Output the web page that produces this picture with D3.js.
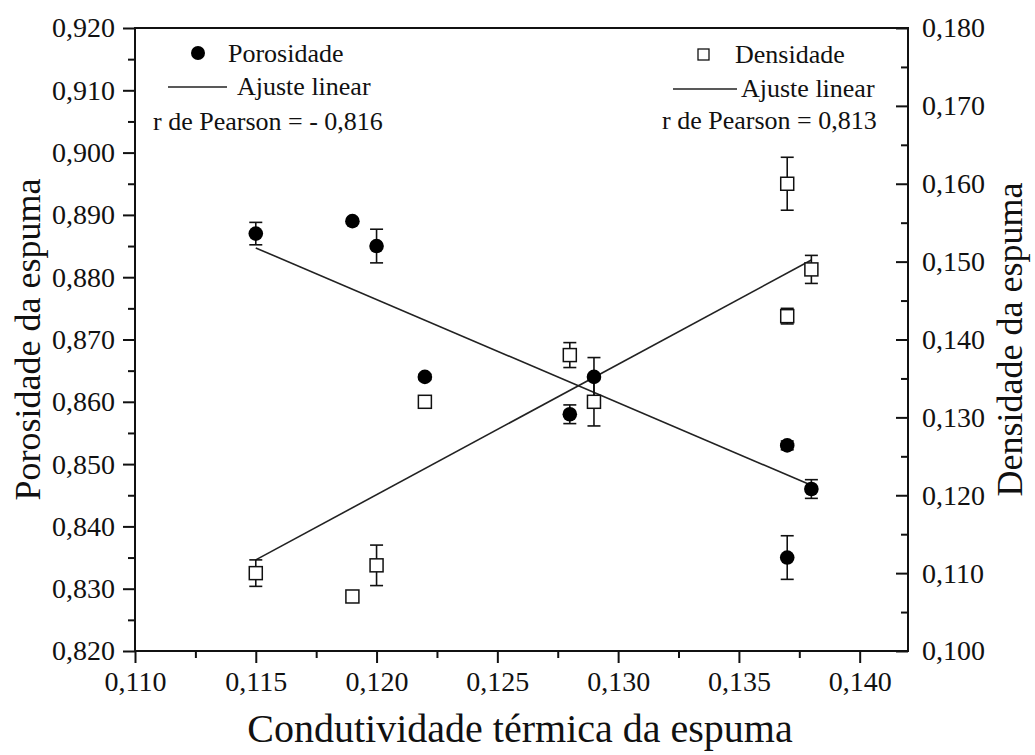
<!DOCTYPE html>
<html>
<head>
<meta charset="utf-8">
<script src="https://cdn.jsdelivr.net/npm/d3@7"></script>
<style>
  html, body { margin: 0; padding: 0; background: #fff; }
  svg { display: block; font-family: "Liberation Serif", "Times New Roman", serif; }
  svg text { font-family: "Liberation Serif", "Times New Roman", serif; }
</style>
</head>
<body>
<svg id="chart" width="1035" height="755"></svg>
<script>
// Thermal conductivity of each foam sample
const condutividade = [0.115, 0.119, 0.120, 0.122, 0.128, 0.129, 0.137, 0.137, 0.138];
// Porosity (left axis) and its standard deviation
const porosidade     = [0.887, 0.889, 0.885, 0.864, 0.858, 0.864, 0.853, 0.835, 0.846];
const porosidadeErro = [0.0018, 0, 0.0027, 0.0004, 0.0015, 0.0031, 0.0007, 0.0035, 0.0015];
// Density (right axis) and its standard deviation
const densidade      = [0.110, 0.107, 0.111, 0.132, 0.138, 0.132, 0.160, 0.143, 0.149];
const densidadeErro  = [0.0017, 0, 0.0026, 0.0007, 0.0016, 0.0031, 0.0034, 0.0010, 0.0018];
// Linear fits, evaluated at the ends of the data range
const ajusteX          = [0.115, 0.138];
const ajustePorosidade = [0.8847, 0.8466];
const ajusteDensidade  = [0.1117, 0.1502];
// Axis ticks
const xTicks  = [0.110, 0.115, 0.120, 0.125, 0.130, 0.135, 0.140];
const yLTicks = [0.820, 0.830, 0.840, 0.850, 0.860, 0.870, 0.880, 0.890, 0.900, 0.910, 0.920];
const yRTicks = [0.100, 0.110, 0.120, 0.130, 0.140, 0.150, 0.160, 0.170, 0.180];

const svg = d3.select("#chart");
const plotL = 135, plotR = 908, plotT = 28, plotB = 651;
const serif = '"Liberation Serif", "Times New Roman", serif';

const x  = d3.scaleLinear().domain([0.110, 0.142]).range([plotL, plotR]);
const yL = d3.scaleLinear().domain([0.820, 0.920]).range([plotB, plotT]);
const yR = d3.scaleLinear().domain([0.100, 0.180]).range([plotB, plotT]);

const fmt = v => d3.format(".3f")(v).replace(".", ",");
const ink = "#111";

// Minor ticks (halfway between the labelled ticks)
const xMinor  = d3.range(0.1125, 0.142, 0.005);
const yLMinor = d3.range(0.825, 0.92, 0.010);
const yRMinor = d3.range(0.105, 0.18, 0.010);

function styleAxis(g) {
  g.attr("font-family", serif).attr("font-size", 28);
  g.select(".domain").remove();
  g.selectAll("line").attr("stroke", ink).attr("stroke-width", 2);
  g.selectAll("text").attr("fill", ink);
}

// bottom axis
svg.append("g").attr("transform", `translate(0,${plotB})`)
  .call(d3.axisBottom(x).tickValues(xMinor).tickSize(7).tickFormat(""))
  .call(styleAxis);
svg.append("g").attr("transform", `translate(0,${plotB})`)
  .call(d3.axisBottom(x).tickValues(xTicks).tickSize(12).tickPadding(8).tickFormat(fmt))
  .call(styleAxis);

// left axis
svg.append("g").attr("transform", `translate(${plotL},0)`)
  .call(d3.axisLeft(yL).tickValues(yLMinor).tickSize(7).tickFormat(""))
  .call(styleAxis);
svg.append("g").attr("transform", `translate(${plotL},0)`)
  .call(d3.axisLeft(yL).tickValues(yLTicks).tickSize(12).tickPadding(8).tickFormat(fmt))
  .call(styleAxis);

// right axis: ticks point into the plot
svg.append("g").attr("transform", `translate(${plotR},0)`)
  .call(d3.axisRight(yR).tickValues(yRMinor).tickSize(-7).tickFormat(""))
  .call(styleAxis);
svg.append("g").attr("transform", `translate(${plotR},0)`)
  .call(d3.axisRight(yR).tickValues(yRTicks).tickSize(-12).tickPadding(14).tickFormat(fmt))
  .call(styleAxis);

// frame
svg.append("rect")
  .attr("x", plotL).attr("y", plotT)
  .attr("width", plotR - plotL).attr("height", plotB - plotT)
  .attr("fill", "none").attr("stroke", ink).attr("stroke-width", 2);

// axis titles
svg.append("text")
  .attr("x", 520).attr("y", 742)
  .attr("text-anchor", "middle").attr("fill", ink)
  .style("font-size", "40px")
  .text("Condutividade térmica da espuma");
svg.append("text")
  .attr("transform", `translate(40,${(plotT + plotB) / 2}) rotate(-90)`)
  .attr("text-anchor", "middle").attr("fill", ink)
  .style("font-size", "36px")
  .text("Porosidade da espuma");
svg.append("text")
  .attr("transform", `translate(1022,${(plotT + plotB) / 2}) rotate(-90)`)
  .attr("text-anchor", "middle").attr("fill", ink)
  .style("font-size", "36px")
  .text("Densidade da espuma");

// fitted lines
const line = d3.line();
svg.append("path")
  .attr("d", line(ajusteX.map((v, i) => [x(v), yL(ajustePorosidade[i])])))
  .attr("fill", "none").attr("stroke", "#222").attr("stroke-width", 1.6);
svg.append("path")
  .attr("d", line(ajusteX.map((v, i) => [x(v), yR(ajusteDensidade[i])])))
  .attr("fill", "none").attr("stroke", "#222").attr("stroke-width", 1.6);

// error bars
function errorBars(values, errors, y) {
  const g = svg.append("g").attr("stroke", ink).attr("stroke-width", 1.6);
  condutividade.forEach((c, i) => {
    if (!errors[i]) return;
    const cx = x(c), y0 = y(values[i] - errors[i]), y1 = y(values[i] + errors[i]);
    g.append("line").attr("x1", cx).attr("x2", cx).attr("y1", y0).attr("y2", y1);
    g.append("line").attr("x1", cx - 6.5).attr("x2", cx + 6.5).attr("y1", y0).attr("y2", y0);
    g.append("line").attr("x1", cx - 6.5).attr("x2", cx + 6.5).attr("y1", y1).attr("y2", y1);
  });
}
errorBars(porosidade, porosidadeErro, yL);
errorBars(densidade, densidadeErro, yR);

// density: open squares
svg.append("g").selectAll("rect").data(condutividade).join("rect")
  .attr("x", d => x(d) - 6.5)
  .attr("y", (d, i) => yR(densidade[i]) - 6.5)
  .attr("width", 13).attr("height", 13)
  .attr("fill", "#fff").attr("stroke", ink).attr("stroke-width", 1.5);

// porosity: filled circles
svg.append("g").selectAll("circle").data(condutividade).join("circle")
  .attr("cx", d => x(d))
  .attr("cy", (d, i) => yL(porosidade[i]))
  .attr("r", 7.3).attr("fill", "#000");

// legends
const legend = svg.append("g").attr("fill", ink).style("font-size", "26px");
legend.append("circle").attr("cx", 198).attr("cy", 53).attr("r", 7).attr("fill", "#000");
legend.append("text").attr("x", 228).attr("y", 62).text("Porosidade");
legend.append("line").attr("x1", 168).attr("x2", 227).attr("y1", 87).attr("y2", 87)
  .attr("stroke", "#222").attr("stroke-width", 1.6);
legend.append("text").attr("x", 237).attr("y", 95).text("Ajuste linear");
legend.append("text").attr("x", 153).attr("y", 130).text("r de Pearson = - 0,816");

legend.append("rect").attr("x", 698).attr("y", 49).attr("width", 11).attr("height", 11)
  .attr("fill", "#fff").attr("stroke", ink).attr("stroke-width", 1.3);
legend.append("text").attr("x", 735).attr("y", 63).text("Densidade");
legend.append("line").attr("x1", 673).attr("x2", 737).attr("y1", 89).attr("y2", 89)
  .attr("stroke", "#222").attr("stroke-width", 1.6);
legend.append("text").attr("x", 741).attr("y", 97).text("Ajuste linear");
legend.append("text").attr("x", 662).attr("y", 129).text("r de Pearson = 0,813");
</script>
</body>
</html>
